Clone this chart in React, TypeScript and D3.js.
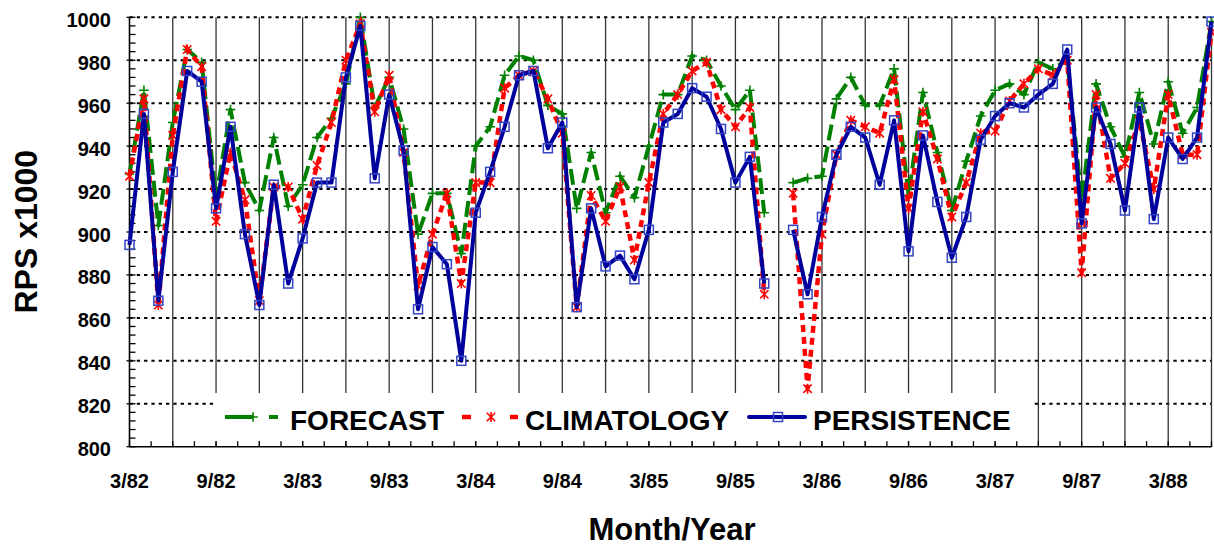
import React, { useEffect, useRef } from "react";
import * as d3 from "d3";

const W = 1214;
const H = 545;

// Monthly RPS (x1000), March 1982 through June 1988; null = missing month
const forecast: (number | null)[] = [
  927, 966, 903, 951, 985, 979, 916, 957, 923, 910,
  944, 912, 922, 944, 953, 969, 1000, 958, 972, 948,
  899, 918, 918, 890, 940, 949, 973, 982, 980, 959,
  955, 911, 937, 909, 926, 916, 940, 964, 964, 982,
  980, 968, 957, 966, 909, null, 923, 925, 926, 962,
  972, 959, 959, 976, 917, 965, 937, 910, 933, 954,
  966, 969, 964, 979, 976, 980, 915, 969, 949, 935,
  965, 941, 970, 946, 958, 998,
];

const climatology: (number | null)[] = [
  926, 962, 866, 945, 985, 977, 905, 937, 915, 868,
  921, 921, 906, 931, 951, 980, 997, 956, 973, 937,
  875, 899, 918, 876, 923, 923, 967, 973, 975, 962,
  946, 865, 917, 905, 921, 887, 923, 955, 964, 975,
  979, 957, 949, 958, 871, null, 918, 827, 899, 936,
  952, 949, 946, 971, 911, 956, 934, 907, 923, 946,
  947, 961, 969, 976, 973, 980, 881, 964, 925, 932,
  952, 920, 964, 936, 936, 993,
];

const persistence: (number | null)[] = [
  894, 955, 868, 928, 975, 970, 911, 949, 899, 866,
  922, 876, 897, 923, 923, 972, 996, 925, 964, 938,
  864, 893, 885, 840, 909, 928, 949, 973, 975, 939,
  951, 865, 911, 884, 889, 878, 901, 951, 955, 967,
  963, 948, 923, 935, 876, null, 901, 871, 907, 936,
  949, 944, 922, 952, 891, 945, 914, 888, 907, 943,
  954, 960, 958, 964, 969, 985, 904, 958, 941, 910,
  958, 906, 944, 934, 944, 998,
];

const xTickLabels = [
  "3/82", "9/82", "3/83", "9/83", "3/84", "9/84", "3/85",
  "9/85", "3/86", "9/86", "3/87", "9/87", "3/88",
];
const yTickValues = [800, 820, 840, 860, 880, 900, 920, 940, 960, 980, 1000];

const GREEN = "#008000";
const RED = "#ff0000";
const BLUE = "#00009c";
const BLUE_MARK = "#3344c4";
const FONT = "Arial, 'Liberation Sans', Helvetica, sans-serif";

export default function App() {
  const ref = useRef<SVGSVGElement>(null);

  useEffect(() => {
    const svg = d3.select(ref.current);
    svg.selectAll("*").remove();

    const n = persistence.length;
    const x = d3.scaleLinear().domain([0, n - 1]).range([129.5, 1211.5]);
    const y = d3.scaleLinear().domain([800, 1000]).range([446.7, 17.3]);
    const [x0, x1] = x.range();
    const [yB, yT] = y.range();

    svg.append("rect").attr("width", W).attr("height", H).attr("fill", "#fff");

    // dotted horizontal grid
    const g = svg.append("g");
    yTickValues
      .filter((v) => v > 800)
      .forEach((v) => {
        g.append("line")
          .attr("x1", x0).attr("x2", x1)
          .attr("y1", y(v)).attr("y2", y(v))
          .attr("stroke", "#000").attr("stroke-width", 2)
          .attr("stroke-dasharray", "3.3 4");
      });

    // solid vertical grid every 3 months
    for (let i = 3; i < n; i += 3) {
      g.append("line")
        .attr("x1", x(i)).attr("x2", x(i))
        .attr("y1", yT).attr("y2", yB)
        .attr("stroke", "#333").attr("stroke-width", 1.3);
    }

    // legend background
    svg.append("rect")
      .attr("x", 214).attr("y", 393)
      .attr("width", 820).attr("height", 48)
      .attr("fill", "#fff");

    // axes
    const ax = svg.append("g").attr("stroke", "#000");
    ax.append("line").attr("x1", x0).attr("x2", x0).attr("y1", yT).attr("y2", yB).attr("stroke-width", 1.6);
    ax.append("line").attr("x1", x0).attr("x2", x1).attr("y1", yB).attr("y2", yB).attr("stroke-width", 1.6);
    for (let v = 800; v <= 1000; v += 4) {
      const major = v % 20 === 0;
      ax.append("line")
        .attr("x1", major ? x0 - 3 : x0).attr("x2", x0 + 6)
        .attr("y1", y(v)).attr("y2", y(v))
        .attr("stroke-width", 1.3);
    }
    for (let k = 0; k * 1.5 <= n - 1; k++) {
      const xi = x(k * 1.5);
      ax.append("line")
        .attr("x1", xi).attr("x2", xi)
        .attr("y1", yB).attr("y2", yB - 5.5)
        .attr("stroke-width", 1.3);
    }

    // tick labels
    const labels = svg.append("g")
      .attr("font-family", FONT).attr("font-weight", "bold").attr("fill", "#000");
    yTickValues.forEach((v) => {
      labels.append("text")
        .attr("x", 111).attr("y", y(v) + 9.5)
        .attr("text-anchor", "end").attr("font-size", 20)
        .text(String(v));
    });
    xTickLabels.forEach((t, k) => {
      labels.append("text")
        .attr("x", x(k * 6)).attr("y", 488)
        .attr("text-anchor", "middle").attr("font-size", 20)
        .text(t);
    });

    // axis titles
    labels.append("text")
      .attr("transform", "translate(36.5,231.7) rotate(-90)")
      .attr("text-anchor", "middle").attr("font-size", 32)
      .text("RPS x1000");
    labels.append("text")
      .attr("x", 672).attr("y", 539.5)
      .attr("text-anchor", "middle").attr("font-size", 31)
      .text("Month/Year");

    // series
    const line = d3.line<number | null>()
      .defined((d) => d != null)
      .x((_, i) => x(i))
      .y((d) => y(d as number));

    const plus = (sel: any, cx: number, cy: number, color: string) => {
      const s = 4.8;
      sel.append("path")
        .attr("d", `M${cx - s},${cy}H${cx + s}M${cx},${cy - s}V${cy + s}`)
        .attr("stroke", color).attr("stroke-width", 1.6).attr("fill", "none");
    };
    const star = (sel: any, cx: number, cy: number, color: string) => {
      const s = 4.2;
      sel.append("path")
        .attr("d", `M${cx - s},${cy - s}L${cx + s},${cy + s}M${cx - s},${cy + s}L${cx + s},${cy - s}M${cx},${cy - s - 0.8}V${cy + s + 0.8}`)
        .attr("stroke", color).attr("stroke-width", 1.6).attr("fill", "none");
    };
    const square = (sel: any, cx: number, cy: number) => {
      const s = 4.5;
      sel.append("rect")
        .attr("x", cx - s).attr("y", cy - s)
        .attr("width", 2 * s).attr("height", 2 * s)
        .attr("fill", "none").attr("stroke", BLUE_MARK).attr("stroke-width", 1.5);
    };

    const gF = svg.append("g");
    gF.append("path").attr("d", line(forecast))
      .attr("fill", "none").attr("stroke", GREEN).attr("stroke-width", 4)
      .attr("stroke-dasharray", "16 6").attr("stroke-linejoin", "round");
    forecast.forEach((d, i) => { if (d != null) plus(gF, x(i), y(d), GREEN); });

    const gC = svg.append("g");
    gC.append("path").attr("d", line(climatology))
      .attr("fill", "none").attr("stroke", RED).attr("stroke-width", 4.5)
      .attr("stroke-dasharray", "7 5");
    climatology.forEach((d, i) => { if (d != null) star(gC, x(i), y(d), RED); });

    const gP = svg.append("g");
    gP.append("path").attr("d", line(persistence))
      .attr("fill", "none").attr("stroke", BLUE).attr("stroke-width", 4)
      .attr("stroke-linejoin", "round");
    persistence.forEach((d, i) => { if (d != null) square(gP, x(i), y(d)); });

    // legend entries
    const lg = svg.append("g");
    const ly = 417;
    lg.append("line").attr("x1", 225).attr("x2", 253).attr("y1", ly).attr("y2", ly)
      .attr("stroke", GREEN).attr("stroke-width", 4);
    lg.append("line").attr("x1", 269).attr("x2", 278).attr("y1", ly).attr("y2", ly)
      .attr("stroke", GREEN).attr("stroke-width", 4);
    plus(lg, 253, ly, GREEN);
    lg.append("line").attr("x1", 462).attr("x2", 471).attr("y1", ly).attr("y2", ly)
      .attr("stroke", RED).attr("stroke-width", 4.5);
    lg.append("line").attr("x1", 510).attr("x2", 518).attr("y1", ly).attr("y2", ly)
      .attr("stroke", RED).attr("stroke-width", 4.5);
    star(lg, 491, ly, RED);
    lg.append("line").attr("x1", 749).attr("x2", 805).attr("y1", ly).attr("y2", ly)
      .attr("stroke", BLUE).attr("stroke-width", 4).attr("stroke-linecap", "round");
    square(lg, 778, ly);

    const lt = lg.append("g")
      .attr("font-family", FONT).attr("font-weight", "bold").attr("font-size", 28).attr("fill", "#000");
    lt.append("text").attr("x", 290).attr("y", 429.5).text("FORECAST");
    lt.append("text").attr("x", 525).attr("y", 429.5).text("CLIMATOLOGY");
    lt.append("text").attr("x", 813).attr("y", 429.5).text("PERSISTENCE");
  }, []);

  return (
    <svg
      ref={ref}
      width={W}
      height={H}
      style={{ position: "absolute", left: 0, top: 0, display: "block" }}
    />
  );
}
